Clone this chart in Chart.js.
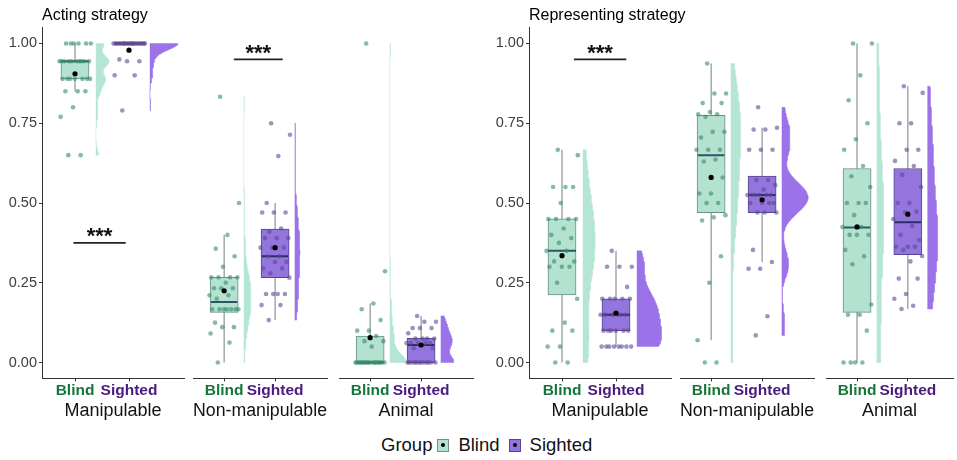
<!DOCTYPE html>
<html>
<head>
<meta charset="utf-8">
<title>Acting and representing strategy</title>
<script src="https://cdn.jsdelivr.net/npm/chart.js@4.4.1/dist/chart.umd.min.js"></script>
<style>
  html, body { margin: 0; padding: 0; background: #fff; }
  body { position: relative; width: 957px; height: 460px; overflow: hidden; }
  canvas { position: absolute; top: 0; }
  #legend {
    position: absolute; left: 381px; top: 433px; height: 24px;
    display: flex; align-items: center; white-space: nowrap;
    font: 18.5px "Liberation Sans", Arial, sans-serif; color: #111;
  }
  .key { position: relative; box-sizing: border-box; width: 12px; height: 13px; border: 1px solid #7b8b88; }
  .key::after { content: ""; position: absolute; left: 3px; top: 3.5px; width: 4px; height: 4px; border-radius: 50%; background: #000; }
  .key.blind { background: #b4e2d1; margin: 0 9px 0 5px; }
  .key.sighted { background: #9474dd; border-color: #55478d; margin: 0 9px 0 9px; }
</style>
</head>
<body>
<div id="legend">
  <span>Group</span><span class="key blind"></span><span>Blind</span><span class="key sighted"></span><span>Sighted</span>
</div>
<script>
const FONT = '"Liberation Sans", Arial, sans-serif';

const CATEGORIES = ['Manipulable', 'Non-manipulable', 'Animal'];
const GROUPS = ['Blind', 'Sighted'];
const GROUP_POS = [1, 2];
const Y_TICKS = [0, 0.25, 0.5, 0.75, 1];
const PANEL_TITLES = ['Acting strategy', 'Representing strategy'];
const SIG_LABEL = '***';

// participant scores
const actingManipBlind = [1, 1, 1, 1, 1, 1, 0.944, 0.944, 0.944, 0.944, 0.944, 0.944, 0.944, 0.944, 0.944, 0.944,
  0.889, 0.889, 0.889, 0.889, 0.889, 0.889, 0.889, 0.85, 0.85, 0.85, 0.8, 0.77, 0.65, 0.65];
const actingManipSighted = [1, 1, 1, 1, 1, 1, 1, 1, 1, 1, 1, 1, 1, 1, 1, 1, 1, 1, 1, 1, 1, 1, 1, 1,
  0.95, 0.944, 0.944, 0.9, 0.9, 0.79];
const actingNonmanipBlind = [0.833, 0.5, 0.4, 0.357, 0.333, 0.3, 0.267, 0.267, 0.267, 0.267, 0.25, 0.233, 0.233, 0.233,
  0.211, 0.211, 0.2, 0.167, 0.167, 0.167, 0.167, 0.167, 0.167, 0.167, 0.125, 0.111, 0.111, 0.091, 0.0625, 0];
const actingNonmanipSighted = [0.75, 0.714, 0.647, 0.5, 0.47, 0.47, 0.47, 0.42, 0.41, 0.39, 0.39, 0.39, 0.36, 0.36, 0.36,
  0.333, 0.333, 0.315, 0.315, 0.295, 0.295, 0.28, 0.266, 0.215, 0.215, 0.215, 0.215, 0.18, 0.18, 0.133];
const actingAnimalBlind = [1, 0.286, 0.185, 0.167, 0.133, 0.1, 0.1, 0.083, 0.067, 0.067, 0.05,
  0, 0, 0, 0, 0, 0, 0, 0, 0, 0, 0, 0, 0, 0, 0, 0, 0, 0, 0];
const actingAnimalSighted = [0.146, 0.128, 0.128, 0.108, 0.108, 0.108, 0.092, 0.075, 0.075, 0.075, 0.075,
  0.061, 0.061, 0.061, 0.061, 0.061, 0.045, 0.045, 0, 0, 0, 0, 0, 0, 0, 0, 0, 0, 0, 0];

const representingManipBlind = [0.667, 0.65, 0.55, 0.55, 0.55, 0.5, 0.45, 0.45, 0.45, 0.45, 0.42, 0.4, 0.39, 0.375,
  0.35, 0.35, 0.317, 0.317, 0.3, 0.3, 0.3, 0.25, 0.2, 0.125, 0.1, 0.1, 0.05, 0.05, 0, 0];
const representingManipSighted = [0.35, 0.3, 0.3, 0.3, 0.237, 0.2, 0.2, 0.2, 0.2, 0.2, 0.15, 0.15, 0.15, 0.15, 0.15, 0.15,
  0.1, 0.1, 0.1, 0.1, 0.1, 0.1, 0.05, 0.05, 0.05, 0.05, 0.05, 0.05, 0.05, 0.05];
const representingNonmanipBlind = [0.937, 0.843, 0.843, 0.813, 0.813, 0.785, 0.778, 0.778, 0.77, 0.723, 0.723, 0.705,
  0.667, 0.667, 0.667, 0.636, 0.63, 0.58, 0.53, 0.53, 0.5, 0.5, 0.462, 0.455, 0.445, 0.333, 0.25, 0.07, 0, 0];
const representingNonmanipSighted = [0.8, 0.736, 0.73, 0.73, 0.667, 0.667, 0.667, 0.572, 0.572, 0.556, 0.542,
  0.525, 0.525, 0.525, 0.525, 0.525, 0.525, 0.5, 0.5, 0.5, 0.5, 0.47, 0.47, 0.47, 0.353, 0.315, 0.294, 0.294, 0.145, 0.085];
const representingAnimalBlind = [1, 1, 0.9, 0.822, 0.75, 0.7, 0.667, 0.616, 0.584, 0.55, 0.5, 0.5, 0.5, 0.462, 0.425, 0.425,
  0.4, 0.4, 0.4, 0.353, 0.333, 0.308, 0.182, 0.15, 0.15, 0.1, 0, 0, 0, 0];
const representingAnimalSighted = [0.866, 0.845, 0.75, 0.75, 0.667, 0.667, 0.632, 0.616, 0.588, 0.55, 0.5, 0.5, 0.473, 0.47,
  0.45, 0.428, 0.4, 0.384, 0.363, 0.363, 0.363, 0.353, 0.334, 0.317, 0.263, 0.263, 0.215, 0.2, 0.178, 0.168];

// box stats per category: [low whisker, q1, median, q3, high whisker]
const actingBoxBlind = [[0.85, 0.889, 0.944, 0.944, 1], [0, 0.157, 0.19, 0.267, 0.4], [0, 0, 0, 0.083, 0.185]];
const actingBoxSighted = [[1, 1, 1, 1, 1], [0.133, 0.266, 0.333, 0.418, 0.5], [0, 0, 0.055, 0.076, 0.146]];
const actingMeanBlind = [0.905, 0.225, 0.078];
const actingMeanSighted = [0.979, 0.36, 0.055];
const representingBoxBlind = [[0, 0.212, 0.35, 0.45, 0.667], [0.07, 0.47, 0.65, 0.775, 0.937], [0, 0.157, 0.423, 0.608, 1]];
const representingBoxSighted = [[0.05, 0.1, 0.15, 0.2, 0.35], [0.315, 0.47, 0.525, 0.584, 0.736], [0.168, 0.338, 0.44, 0.608, 0.866]];
const representingMeanBlind = [0.335, 0.58, 0.425];
const representingMeanSighted = [0.155, 0.51, 0.465];

// significance brackets (category, level, x span in group units)
const actingSigCategory = [0, 1];
const actingSigLevel = [0.375, 0.95];
const actingSigSpan = [[0.97, 1.94], [1.19, 2.15]];
const representingSigCategory = [0];
const representingSigLevel = [0.95];
const representingSigSpan = [[1.22, 2.19]];

const panels = [
  {
    title: PANEL_TITLES[0],
    scores: [[actingManipBlind, actingNonmanipBlind, actingAnimalBlind],
             [actingManipSighted, actingNonmanipSighted, actingAnimalSighted]],
    box: [actingBoxBlind, actingBoxSighted],
    mean: [actingMeanBlind, actingMeanSighted],
    sigCat: actingSigCategory, sigLevel: actingSigLevel, sigSpan: actingSigSpan
  },
  {
    title: PANEL_TITLES[1],
    scores: [[representingManipBlind, representingNonmanipBlind, representingAnimalBlind],
             [representingManipSighted, representingNonmanipSighted, representingAnimalSighted]],
    box: [representingBoxBlind, representingBoxSighted],
    mean: [representingMeanBlind, representingMeanSighted],
    sigCat: representingSigCategory, sigLevel: representingSigLevel, sigSpan: representingSigSpan
  }
];

// styling per group (Blind, Sighted)
const BOX_FILL = ['#b4e2d1', '#9474dd'];
const BOX_LINE = ['#6c8c86', '#55478d'];
const MEDIAN_LINE = ['#2c5566', '#2a2f66'];
const VIOLIN_FILL = ['#b5e5d4', '#9b72e8'];
const POINT_FILL = ['rgba(55,140,105,0.6)', 'rgba(95,72,150,0.6)'];
const LABEL_COLOR = ['#16763a', '#4a1a7e'];
const WHISKER = '#7d8a93';
const AXIS = '#333';

// layout
const PANEL_AXIS_X = [42, 529];
const FACET_SHIFT = [0, 147, 293];
const FACET_W = 142;
const Y_AXIS_W = 42;
const TITLE_ROOM = 70;
const PX_PER_UNIT = 54;
const FIRST_TICK_OFFSET = 33;
const CANVAS_H = 430;
const PLOT_TOP = 27.5;
const PLOT_H = 351;
const X_AXIS_H = 50;
const BOX_HALF = 0.26;
const VIOLIN_GAP = 0.385;
const VIOLIN_MAX = 0.52;
const JITTER = 0.3;

Chart.defaults.font.family = FONT;

function quantile(sorted, p) {
  const h = (sorted.length - 1) * p, lo = Math.floor(h);
  return sorted[lo] + (h - lo) * ((sorted[lo + 1] ?? sorted[lo]) - sorted[lo]);
}

// R's bw.nrd0
function bandwidth(v) {
  const s = [...v].sort((a, b) => a - b);
  const n = v.length;
  const m = v.reduce((a, b) => a + b, 0) / n;
  const sd = Math.sqrt(v.reduce((a, b) => a + (b - m) ** 2, 0) / (n - 1));
  let lo = Math.min(sd, (quantile(s, 0.75) - quantile(s, 0.25)) / 1.34);
  if (!lo) lo = sd || Math.abs(v[0]) || 1;
  return 0.9 * lo * Math.pow(n, -0.2);
}

// gaussian kde trimmed to the data range
function density(v) {
  const bw = bandwidth(v);
  const lo = Math.min(...v), hi = Math.max(...v);
  const ys = [], ds = [];
  for (let k = 0; k <= 120; k++) {
    const y = lo + (hi - lo) * k / 120;
    let d = 0;
    v.forEach(x => { d += Math.exp(-0.5 * ((y - x) / bw) ** 2); });
    ys.push(y);
    ds.push(d / (v.length * bw * Math.sqrt(2 * Math.PI)));
  }
  return { ys, ds };
}

function violinShapes(panel) {
  const dens = panel.scores.map(g => g.map(density));
  let peak = 0;
  dens.forEach(g => g.forEach(s => s.ds.forEach(d => { peak = Math.max(peak, d); })));
  return dens.map(g => g.map(s => s.ys.map((y, k) => ({ y, w: s.ds[k] / peak * VIOLIN_MAX }))));
}

// outline of a half violin: up along the density curve, back down along the base
function violinOutline(shape, base) {
  const curve = shape.map(p => ({ x: base + p.w, y: p.y }));
  return [{ x: base, y: shape[0].y }, ...curve, { x: base, y: shape[shape.length - 1].y }];
}

// spread points sideways so they do not overlap
const jitter = i => (((i * 0.618034 + 0.37) % 1) - 0.5) * 2 * JITTER;

const decorations = {
  id: 'decorations',
  afterDatasetsDraw(chart, args, opts) {
    const { ctx, chartArea, scales } = chart;
    ctx.save();
    if (opts.title) {
      ctx.font = `16px ${FONT}`;
      ctx.fillStyle = '#000';
      ctx.textAlign = 'left';
      ctx.textBaseline = 'middle';
      ctx.fillText(opts.title, chartArea.left, 16);
    }
    ctx.font = `bold 22px ${FONT}`;
    ctx.fillStyle = '#111';
    ctx.textAlign = 'center';
    ctx.textBaseline = 'alphabetic';
    opts.sigs.forEach(s => {
      const m = ctx.measureText(SIG_LABEL);
      const cx = scales.x.getPixelForValue((s.from + s.to) / 2);
      const centerY = scales.y.getPixelForValue(s.level) - 10;
      ctx.fillText(SIG_LABEL, cx, centerY + (m.actualBoundingBoxAscent - m.actualBoundingBoxDescent) / 2);
    });
    ctx.restore();
  }
};

function makeFacet(pi, cat, shapes) {
  const panel = panels[pi];
  const first = cat === 0;
  const areaLeft = PANEL_AXIS_X[pi] + FACET_SHIFT[cat];
  const areaW = Math.min(FACET_W, 957 - areaLeft);
  const canvas = document.createElement('canvas');
  canvas.width = areaW + (first ? Y_AXIS_W + TITLE_ROOM : 0);
  canvas.height = CANVAS_H;
  canvas.style.left = (first ? areaLeft - Y_AXIS_W : areaLeft) + 'px';
  document.body.appendChild(canvas);

  const xMin = 1 - FIRST_TICK_OFFSET / PX_PER_UNIT;
  const xMax = xMin + areaW / PX_PER_UNIT;
  const datasets = [];

  GROUP_POS.forEach((pos, g) => {
    const box = panel.box[g][cat];
    datasets.push({
      type: 'line', order: 9, data: [{ x: pos, y: box[0] }, { x: pos, y: box[4] }],
      borderColor: WHISKER, borderWidth: 1.1, pointRadius: 0
    });
    datasets.push({
      type: 'line', order: 7, data: [{ x: pos - BOX_HALF, y: box[2] }, { x: pos + BOX_HALF, y: box[2] }],
      borderColor: MEDIAN_LINE[g], borderWidth: 2, pointRadius: 0
    });
    datasets.push({
      type: 'line', order: 6,
      data: violinOutline(shapes[g][cat], pos + VIOLIN_GAP),
      fill: 'shape', backgroundColor: VIOLIN_FILL[g],
      borderColor: VIOLIN_FILL[g], borderWidth: 0.5, pointRadius: 0
    });
    datasets.push({
      type: 'scatter', order: 3,
      data: panel.scores[g][cat].map((v, i) => ({ x: pos + jitter(i), y: v })),
      backgroundColor: POINT_FILL[g], borderWidth: 0, pointRadius: 2.3
    });
  });

  datasets.push({
    type: 'bar', order: 8,
    data: GROUP_POS.map((pos, g) => ({ x: pos, y: [panel.box[g][cat][1], panel.box[g][cat][3]] })),
    backgroundColor: BOX_FILL, borderColor: BOX_LINE, borderWidth: 1, borderSkipped: false,
    barThickness: BOX_HALF * 2 * PX_PER_UNIT, grouped: false
  });
  datasets.push({
    type: 'scatter', order: 1,
    data: GROUP_POS.map((pos, g) => ({ x: pos, y: panel.mean[g][cat] })),
    backgroundColor: '#000', borderWidth: 0, pointRadius: 2.6
  });

  const sigs = [];
  panel.sigCat.forEach((c, k) => {
    if (c !== cat) return;
    const [from, to] = panel.sigSpan[k];
    sigs.push({ from, to, level: panel.sigLevel[k] });
    datasets.push({
      type: 'line', order: 0,
      data: [{ x: from, y: panel.sigLevel[k] }, { x: to, y: panel.sigLevel[k] }],
      borderColor: '#222', borderWidth: 1.8, pointRadius: 0
    });
  });

  new Chart(canvas, {
    type: 'scatter',
    data: { datasets },
    plugins: [decorations],
    options: {
      responsive: false,
      animation: false,
      events: [],
      layout: {
        padding: {
          top: PLOT_TOP, bottom: CANVAS_H - PLOT_TOP - PLOT_H - X_AXIS_H,
          left: 0, right: first ? TITLE_ROOM : 0
        }
      },
      plugins: {
        legend: { display: false },
        tooltip: { enabled: false },
        decorations: { title: first ? panel.title : '', sigs }
      },
      scales: {
        x: {
          type: 'linear', min: xMin, max: xMax, offset: false,
          grid: { display: true, drawOnChartArea: false, offset: false, tickLength: 3, color: AXIS },
          border: { display: true, color: AXIS, width: 1 },
          afterBuildTicks: s => { s.ticks = GROUP_POS.map(v => ({ value: v })); },
          afterFit: s => { s.height = X_AXIS_H; },
          ticks: {
            autoSkip: false, maxRotation: 0, minRotation: 0, padding: 1,
            font: { size: 15.5, weight: 'bold', lineHeight: 1 },
            color: c => LABEL_COLOR[c.index],
            callback: (v, i) => GROUPS[i]
          },
          title: {
            display: true, text: CATEGORIES[cat], color: '#111',
            font: { size: 18, lineHeight: 1 }, padding: { top: 0, bottom: 8.5 }
          }
        },
        y: {
          type: 'linear', min: -0.05, max: 1.05, display: first,
          grid: { display: true, drawOnChartArea: false, tickLength: 3, color: AXIS },
          border: { display: true, color: AXIS, width: 1 },
          afterBuildTicks: s => { s.ticks = Y_TICKS.map(v => ({ value: v })); },
          afterFit: s => { s.width = first ? Y_AXIS_W : 0; },
          ticks: { padding: 2, color: '#3d3d3d', font: { size: 14.5 }, callback: v => v.toFixed(2) }
        }
      }
    }
  });
}

panels.forEach((panel, pi) => {
  const shapes = violinShapes(panel);
  CATEGORIES.forEach((c, cat) => makeFacet(pi, cat, shapes));
});
</script>
</body>
</html>
